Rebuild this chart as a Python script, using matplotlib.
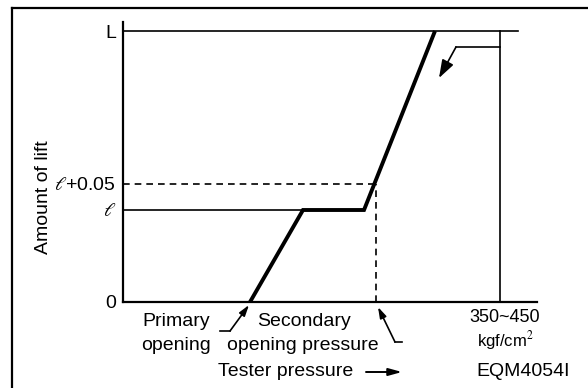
import matplotlib

matplotlib.use("Agg")
import matplotlib.pyplot as plt
from matplotlib.lines import Line2D

plt.rcParams["font.family"] = ["Liberation Sans", "DejaVu Sans"]
plt.rcParams["mathtext.fontset"] = "stix"

# valve lift curve (schematic units: x = tester pressure, y = lift)
PRESSURE = [127, 180, 241, 312]
LIFT = [0, 92, 92, 271]
LEVEL_L = 271
LEVEL_LO = 92
LEVEL_LO_PLUS = 118
SECOND_OPEN = 253
MAX_PRESSURE = 377
YTICKS = [0, LEVEL_LO, LEVEL_LO_PLUS, LEVEL_L]
YTICK_LABELS = ["0", r"$\ell$", r"$\ell$+0.05", "L"]

W, H = 588, 388
fig = plt.figure(figsize=(W / 100, H / 100), dpi=100)
ax = fig.add_axes([123 / W, (H - 302) / H, 414 / W, 280 / H])
ax.set_xlim(0, 414)
ax.set_ylim(0, 280)

for s in ("top", "right"):
    ax.spines[s].set_visible(False)
for s in ("left", "bottom"):
    ax.spines[s].set_linewidth(1.6)
ax.set_xticks([])
ax.set_yticks(YTICKS)
ax.set_yticklabels(YTICK_LABELS, fontsize=14)
ax.tick_params(axis="y", length=0, pad=5)

# horizontal reference lines
ax.plot([0, 395], [LEVEL_L, LEVEL_L], color="black", lw=1.2)
ax.plot([0, PRESSURE[1]], [LEVEL_LO, LEVEL_LO], color="black", lw=1.2)
ax.plot([MAX_PRESSURE, MAX_PRESSURE], [0, LEVEL_L], color="black", lw=1.2)

# dashed lines for secondary opening
ax.plot([0, SECOND_OPEN], [LEVEL_LO_PLUS, LEVEL_LO_PLUS], color="black",
        lw=1.2, dashes=(4, 3))
ax.plot([SECOND_OPEN, SECOND_OPEN], [0, LEVEL_LO_PLUS], color="black",
        lw=1.2, dashes=(4, 3))

# lift curve
ax.plot(PRESSURE, LIFT, color="black", lw=2.8, solid_capstyle="butt",
        solid_joinstyle="miter", clip_on=False)

# hooked arrows
def hook(p0, p1, head, hw, hl):
    ax.plot([p0[0], p1[0]], [p0[1], p1[1]], color="black", lw=1.2,
            clip_on=False)
    ax.annotate("", xy=head, xytext=p1, annotation_clip=False,
                arrowprops=dict(arrowstyle=f"-|>,head_width={hw},head_length={hl}",
                                color="black", lw=1.2, shrinkA=0, shrinkB=0))

hook((97, -29), (107, -29), (126, -3), 0.2, 0.65)
hook((279, -40), (272, -40), (255, -5), 0.2, 0.65)
hook((MAX_PRESSURE, 255), (333, 255), (316, 224), 0.38, 1.1)

fs = 14
ax.text(53, -20, "Primary", ha="center", va="center", fontsize=fs)
ax.text(53, -43, "opening", ha="center", va="center", fontsize=fs)
ax.text(181, -20, "Secondary", ha="center", va="center", fontsize=fs)
ax.text(180, -43, "opening pressure", ha="center", va="center", fontsize=fs)
ax.text(163, -70, "Tester pressure", ha="center", va="center", fontsize=fs)
ax.annotate("", xy=(279, -70), xytext=(243, -70), annotation_clip=False,
            arrowprops=dict(arrowstyle="-|>,head_width=0.22,head_length=0.8",
                            color="black", lw=1.4, shrinkA=0, shrinkB=0))
ax.text(382, -16, "350~450", ha="center", va="center", fontsize=13)
ax.text(382, -38, "kgf/cm$^2$", ha="center", va="center", fontsize=12)
ax.text(400, -70, "EQM4054I", ha="center", va="center", fontsize=fs)
ax.text(-80, 105, "Amount of lift", ha="center", va="center", fontsize=fs,
        rotation=90)

# outer frame (top and left only)
fig.add_artist(Line2D([12 / W, 1], [1 - 8 / H, 1 - 8 / H], color="black", lw=1.6))
fig.add_artist(Line2D([12 / W, 12 / W], [0, 1 - 8 / H], color="black", lw=1.6))

fig.savefig("out.png", dpi=100, facecolor="white")
